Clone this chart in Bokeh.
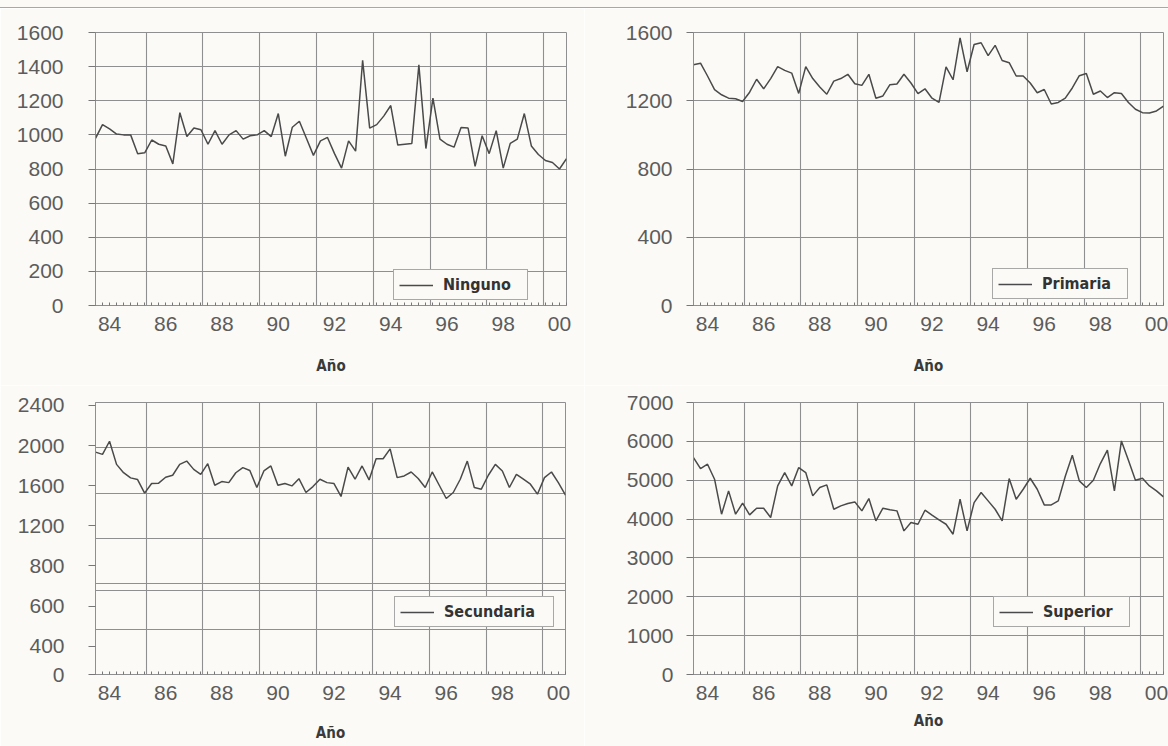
import numpy as np
from bokeh.plotting import figure
from bokeh.models import Range1d, FixedTicker, Legend, LegendItem, Div
from bokeh.layouts import row, column
from bokeh.embed import file_html
from bokeh.resources import INLINE

# ---------------- data (quarterly, 1983Q3 .. 2000Q2) ----------------
first_quarter = 1983.5
n_quarters = 68
quarters = [first_quarter + 0.25 * i for i in range(n_quarters)]

ninguno = [980, 1060, 1035, 1005, 1000, 1000, 890, 895, 970, 945,
           935, 830, 1130, 990, 1040, 1030, 945, 1025, 945, 1000,
           1025, 975, 995, 1000, 1025, 990, 1125, 875, 1045, 1080,
           980, 880, 965, 985, 890, 805, 965, 905, 1437, 1040,
           1060, 1110, 1172, 940, 945, 950, 1410, 920, 1215, 975,
           945, 928, 1043, 1040, 815, 995, 890, 1025, 805, 950,
           975, 1125, 935, 885, 850, 838, 800, 860]

primaria = [1411, 1420, 1345, 1265, 1235, 1215, 1212, 1196, 1250, 1326,
            1270, 1330, 1400, 1378, 1362, 1243, 1400, 1330, 1280, 1238,
            1315, 1330, 1355, 1300, 1290, 1355, 1215, 1228, 1294, 1298,
            1355, 1304, 1242, 1270, 1215, 1190, 1398, 1323, 1568, 1370,
            1530, 1540, 1464, 1525, 1436, 1423, 1345, 1345, 1304, 1247,
            1266, 1181, 1190, 1215, 1275, 1347, 1360, 1238, 1257, 1219,
            1247, 1242, 1190, 1150, 1130, 1128, 1140, 1168]

secundaria = [1962, 1942, 2058, 1854, 1781, 1735, 1720, 1600, 1685, 1688,
              1740, 1758, 1854, 1883, 1810, 1766, 1860, 1670, 1702, 1693,
              1780, 1825, 1800, 1650, 1796, 1840, 1670, 1685, 1664, 1728,
              1606, 1658, 1723, 1693, 1685, 1571, 1830, 1723, 1840, 1717,
              1904, 1904, 1991, 1737, 1752, 1787, 1730, 1650, 1787, 1670,
              1553, 1606, 1723, 1883, 1650, 1635, 1758, 1854, 1796, 1650,
              1766, 1723, 1679, 1591, 1737, 1787, 1690, 1582]

superior = [5583, 5300, 5412, 5026, 4125, 4725, 4125, 4408, 4108, 4280,
            4280, 4040, 4854, 5197, 4854, 5326, 5197, 4597, 4811, 4880,
            4253, 4339, 4400, 4442, 4211, 4528, 3954, 4280, 4240, 4211,
            3696, 3910, 3867, 4228, 4100, 3979, 3867, 3610, 4511, 3696,
            4425, 4683, 4468, 4253, 3954, 5043, 4511, 4768, 5051, 4768,
            4365, 4365, 4468, 5100, 5644, 4983, 4811, 5000, 5429, 5772,
            4725, 6012, 5515, 5000, 5051, 4854, 4725, 4571]

year_ticks = [1984, 1986, 1988, 1990, 1992, 1994, 1996, 1998, 2000]
year_labels = ["84", "86", "88", "90", "92", "94", "96", "98", "00"]
x_grid_years = [1985.3 + 2.02 * k for k in range(8)]

ninguno_ticks = [0, 200, 400, 600, 800, 1000, 1200, 1400, 1600]
primaria_ticks = [0, 400, 800, 1200, 1600]
superior_ticks = [0, 1000, 2000, 3000, 4000, 5000, 6000, 7000]
secundaria_grid = [0, 400, 740, 800, 1200, 1600, 2000, 2400]
secundaria_labels = ["2400", "2000", "1600", "1200", "800", "600", "400", "0"]
secundaria_label_pos = [2374, 2020, 1666, 1312, 958, 604, 250, 0]

PAPER = "#fbfaf6"
GRID = "#8f8f8f"
TICKFONT = "Liberation Sans"
BOLDFONT = "'Liberation Sans Narrow', 'DejaVu Sans Condensed', Roboto, sans-serif"


def make_panel(values, name, y_end, grid_ticks, label_pos, label_txt,
               width, height, borders, legend_xy, label_width,
               y_standoff, xlabel_standoff):
    left, right, top, bottom = borders
    p = figure(width=width, height=height, output_backend="svg",
               toolbar_location=None,
               x_range=Range1d(quarters[0], quarters[-1]),
               y_range=Range1d(0, y_end),
               min_border_left=left, min_border_right=right,
               min_border_top=top, min_border_bottom=bottom,
               background_fill_color=PAPER, border_fill_color=PAPER)
    p.outline_line_color = GRID
    p.outline_line_width = 1

    # grids
    p.xgrid.ticker = FixedTicker(ticks=x_grid_years)
    p.ygrid.ticker = FixedTicker(ticks=grid_ticks)
    for g in (p.xgrid, p.ygrid):
        g.grid_line_color = GRID
        g.grid_line_width = 1.1

    # x axis
    xa = p.xaxis[0]
    xa.ticker = FixedTicker(ticks=year_ticks, minor_ticks=quarters)
    xa.major_label_overrides = {t: l for t, l in zip(year_ticks, year_labels)}
    xa.major_tick_line_color = None
    xa.major_tick_out = 0
    xa.major_tick_in = 0
    xa.minor_tick_in = 3
    xa.minor_tick_out = 0
    xa.minor_tick_line_color = "#777777"
    xa.axis_line_color = GRID
    xa.major_label_text_font = TICKFONT
    xa.major_label_text_font_size = "21px"
    xa.major_label_text_color = "#5c5c5c"
    xa.major_label_standoff = 11
    xa.axis_label = "Año"
    xa.axis_label_text_font = BOLDFONT
    xa.axis_label_text_font_size = "15px"
    xa.axis_label_text_font_style = "bold"
    xa.axis_label_text_color = "#3a3a3a"
    xa.axis_label_standoff = xlabel_standoff

    # y axis
    ya = p.yaxis[0]
    ya.ticker = FixedTicker(ticks=label_pos)
    ya.major_label_overrides = {t: l for t, l in zip(label_pos, label_txt)}
    ya.major_tick_out = 7
    ya.major_tick_in = 0
    ya.major_tick_line_color = "#777777"
    ya.minor_tick_line_color = None
    ya.axis_line_color = GRID
    ya.major_label_text_font = TICKFONT
    ya.major_label_text_font_size = "21px"
    ya.major_label_text_color = "#5c5c5c"
    ya.major_label_standoff = y_standoff

    r = p.line(quarters, values, line_color="#4a4a4a", line_width=1.5)

    legend = Legend(items=[LegendItem(label=name, renderers=[r])],
                    location=legend_xy, margin=0, padding=5, spacing=0,
                    glyph_width=34, glyph_height=18, label_height=18,
                    label_width=label_width, label_standoff=10,
                    border_line_color="#555555", border_line_width=1,
                    background_fill_color=PAPER, background_fill_alpha=1,
                    label_text_font=BOLDFONT, label_text_font_size="16px",
                    label_text_font_style="bold", label_text_color="#333333")
    p.add_layout(legend)
    return p


rule = Div(text="", width=1168, height=8, margin=0,
           styles={"background-color": PAPER,
                   "border-bottom": "1px solid #a8a8a8",
                   "box-sizing": "border-box"})

p1 = make_panel(ninguno, "Ninguno", 1600, ninguno_ticks, ninguno_ticks,
                [str(v) for v in ninguno_ticks], 584, 377, (95, 18, 24, 80),
                (298, 5), 79, 25, 23)
p2 = make_panel(primaria, "Primaria", 1600, primaria_ticks, primaria_ticks,
                [str(v) for v in primaria_ticks], 584, 377, (109, 5, 22, 79),
                (299, 6), 80, 14, 23)
p3 = make_panel(secundaria, "Secundaria", 2400, secundaria_grid,
                secundaria_label_pos, secundaria_labels, 584, 361,
                (95, 19, 14, 70), (299, 47), 104, 24, 21)
p4 = make_panel(superior, "Superior", 7000, superior_ticks, superior_ticks,
                [str(v) for v in superior_ticks], 584, 361, (109, 5, 17, 72),
                (300, 47), 81, 13, 9)

layout = column(rule, row(p1, p2), row(p3, p4))
open("out.html", "w").write(file_html(layout, INLINE))
